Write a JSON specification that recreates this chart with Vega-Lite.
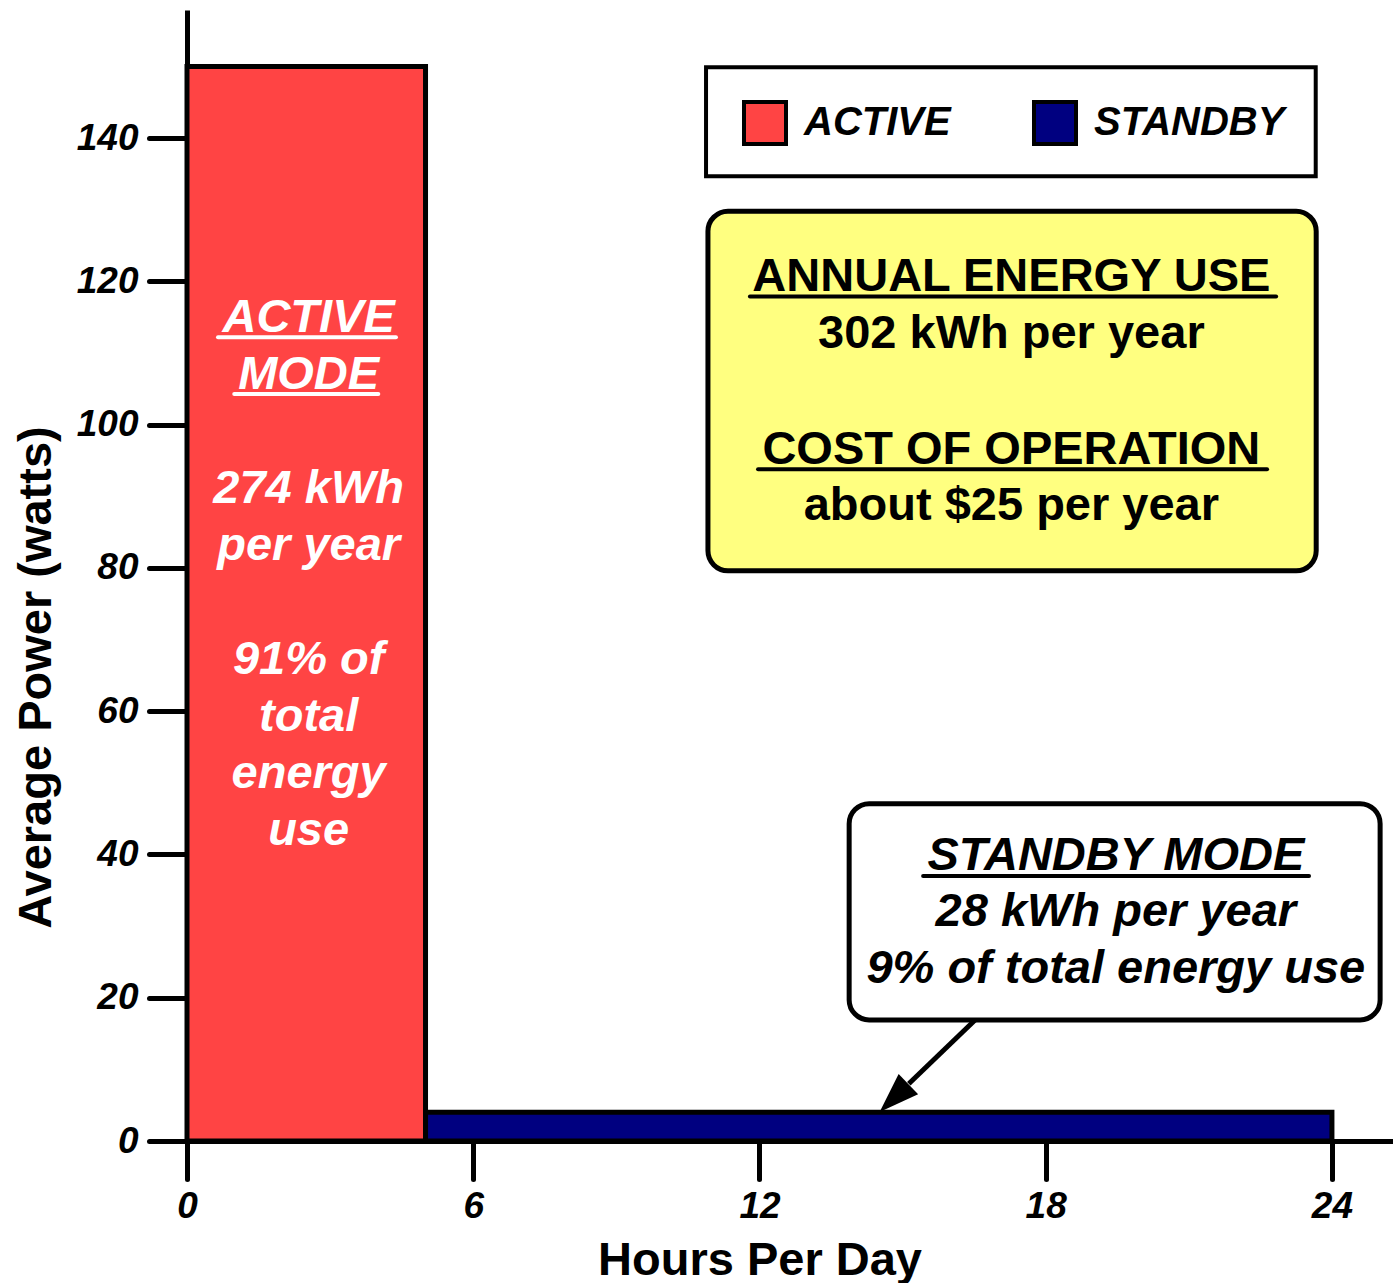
{
  "$schema": "https://vega.github.io/schema/vega-lite/v6.json",
  "width": 1206,
  "height": 1131,
  "autosize": {"type": "none"},
  "padding": {"left": 187, "top": 10, "right": 0, "bottom": 142},
  "background": "white",
  "datasets": {
    "bars": [
      {"mode": "ACTIVE", "x": 0, "x2": 5, "y": 150, "y2": 0},
      {"mode": "STANDBY", "x": 5, "x2": 24, "y": 4, "y2": 0}
    ],
    "boxes": [
      {"box": "legend", "x": 10.88, "x2": 23.66, "y": 149.9, "y2": 134.7},
      {"box": "energy", "x": 10.92, "x2": 23.67, "y": 129.8, "y2": 79.6},
      {"box": "standby", "x": 13.88, "x2": 25.01, "y": 47.1, "y2": 16.9}
    ],
    "texts": [
      {"group": "active", "x": 2.55, "y": 112.9, "label": "ACTIVE"},
      {"group": "active", "x": 2.55, "y": 105.0, "label": "MODE"},
      {"group": "active", "x": 2.55, "y": 89.1, "label": "274 kWh"},
      {"group": "active", "x": 2.55, "y": 81.1, "label": "per year"},
      {"group": "active", "x": 2.55, "y": 65.2, "label": "91% of"},
      {"group": "active", "x": 2.55, "y": 57.2, "label": "total"},
      {"group": "active", "x": 2.55, "y": 49.3, "label": "energy"},
      {"group": "active", "x": 2.55, "y": 41.3, "label": "use"},
      {"group": "energy", "x": 17.28, "y": 118.6, "label": "ANNUAL ENERGY USE"},
      {"group": "energy", "x": 17.28, "y": 110.7, "label": "302 kWh per year"},
      {"group": "energy", "x": 17.28, "y": 94.5, "label": "COST OF OPERATION"},
      {"group": "energy", "x": 17.28, "y": 86.7, "label": "about $25 per year"},
      {"group": "standby", "x": 19.47, "y": 37.8, "label": "STANDBY MODE"},
      {"group": "standby", "x": 19.47, "y": 30.0, "label": "28 kWh per year"},
      {"group": "standby", "x": 19.47, "y": 22.0, "label": "9% of total energy use"}
    ],
    "underlines": [
      {"group": "active", "x": 0.65, "x2": 4.38, "y": 112.2},
      {"group": "active", "x": 0.99, "x2": 4.01, "y": 104.3},
      {"group": "dark", "x": 11.8, "x2": 22.83, "y": 117.9},
      {"group": "dark", "x": 11.97, "x2": 22.64, "y": 93.8},
      {"group": "dark", "x": 15.43, "x2": 23.52, "y": 37.0}
    ],
    "arrowLine": [{"x": 16.52, "y": 16.9, "x2": 15.13, "y2": 8.0}],
    "arrowHead": [{"x": 14.82, "y": 6.0}]
  },
  "encoding": {
    "x": {
      "field": "x", "type": "quantitative",
      "scale": {"domain": [0, 25.28], "nice": false, "zero": false},
      "axis": {
        "title": "Hours Per Day",
        "values": [0, 6, 12, 18, 24],
        "grid": false,
        "domainColor": "black", "domainWidth": 5,
        "tickColor": "black", "tickWidth": 5, "tickSize": 38, "tickCap": "round",
        "labelFont": "Liberation Sans", "labelFontSize": 37, "labelFontWeight": "bold", "labelFontStyle": "italic",
        "labelColor": "black", "labelPadding": 9, "labelFlush": false,
        "titleFont": "Liberation Sans", "titleFontSize": 47, "titleFontWeight": "bold", "titleColor": "black",
        "titleX": 572.5, "titleY": 133, "titleBaseline": "alphabetic", "titleAlign": "center"
      }
    },
    "y": {
      "field": "y", "type": "quantitative",
      "scale": {"domain": [0, 157.9], "nice": false, "zero": false},
      "axis": {
        "title": "Average Power (watts)",
        "values": [0, 20, 40, 60, 80, 100, 120, 140],
        "grid": false,
        "domainColor": "black", "domainWidth": 5,
        "tickColor": "black", "tickWidth": 5, "tickSize": 38, "tickCap": "round",
        "labelFont": "Liberation Sans", "labelFontSize": 37, "labelFontWeight": "bold", "labelFontStyle": "italic",
        "labelColor": "black", "labelPadding": 11, "labelFlush": false,
        "titleFont": "Liberation Sans", "titleFontSize": 47, "titleFontWeight": "bold", "titleColor": "black",
        "titleAngle": 270, "titleX": -137, "titleY": 667, "titleBaseline": "alphabetic", "titleAlign": "center"
      }
    }
  },
  "layer": [
    {
      "data": {"name": "boxes"},
      "transform": [{"filter": "datum.box === 'legend'"}],
      "mark": {"type": "rect", "fill": "white", "stroke": "black", "strokeWidth": 4},
      "encoding": {"x2": {"field": "x2"}, "y2": {"field": "y2"}}
    },
    {
      "data": {"name": "boxes"},
      "transform": [{"filter": "datum.box === 'energy'"}],
      "mark": {"type": "rect", "fill": "#FFFF80", "stroke": "black", "strokeWidth": 5, "cornerRadius": 20},
      "encoding": {"x2": {"field": "x2"}, "y2": {"field": "y2"}}
    },
    {
      "data": {"name": "boxes"},
      "transform": [{"filter": "datum.box === 'standby'"}],
      "mark": {"type": "rect", "fill": "white", "stroke": "black", "strokeWidth": 5, "cornerRadius": 20},
      "encoding": {"x2": {"field": "x2"}, "y2": {"field": "y2"}}
    },
    {
      "data": {"name": "bars"},
      "mark": {"type": "rect", "stroke": "black", "strokeWidth": 5, "opacity": 1},
      "encoding": {
        "x2": {"field": "x2"},
        "y2": {"field": "y2"},
        "color": {
          "field": "mode", "type": "nominal",
          "scale": {"domain": ["ACTIVE", "STANDBY"], "range": ["#FF4444", "#000080"]},
          "legend": {
            "title": null,
            "orient": "none",
            "legendX": 555,
            "legendY": 90,
            "direction": "horizontal",
            "columns": 2,
            "columnPadding": 75,
            "padding": 0,
            "symbolType": "square",
            "symbolSize": 1764,
            "symbolStrokeColor": "black",
            "symbolStrokeWidth": 4,
            "symbolOpacity": 1,
            "labelOffset": 16,
            "labelFont": "Liberation Sans",
            "labelFontSize": 40,
            "labelFontWeight": "bold",
            "labelFontStyle": "italic",
            "labelColor": "black",
            "labelLimit": 400
          }
        }
      }
    },
    {
      "data": {"name": "underlines"},
      "transform": [{"filter": "datum.group === 'active'"}],
      "mark": {"type": "rule", "color": "white", "strokeWidth": 4, "strokeCap": "round"},
      "encoding": {"x2": {"field": "x2"}}
    },
    {
      "data": {"name": "underlines"},
      "transform": [{"filter": "datum.group === 'dark'"}],
      "mark": {"type": "rule", "color": "black", "strokeWidth": 4, "strokeCap": "round"},
      "encoding": {"x2": {"field": "x2"}}
    },
    {
      "data": {"name": "texts"},
      "transform": [{"filter": "datum.group === 'active'"}],
      "mark": {"type": "text", "color": "white", "font": "Liberation Sans", "fontSize": 47, "fontWeight": "bold", "fontStyle": "italic", "align": "center", "baseline": "alphabetic"},
      "encoding": {"text": {"field": "label", "type": "nominal"}}
    },
    {
      "data": {"name": "texts"},
      "transform": [{"filter": "datum.group === 'energy'"}],
      "mark": {"type": "text", "color": "black", "font": "Liberation Sans", "fontSize": 47, "fontWeight": "bold", "align": "center", "baseline": "alphabetic"},
      "encoding": {"text": {"field": "label", "type": "nominal"}}
    },
    {
      "data": {"name": "texts"},
      "transform": [{"filter": "datum.group === 'standby'"}],
      "mark": {"type": "text", "color": "black", "font": "Liberation Sans", "fontSize": 47, "fontWeight": "bold", "fontStyle": "italic", "align": "center", "baseline": "alphabetic"},
      "encoding": {"text": {"field": "label", "type": "nominal"}}
    },
    {
      "data": {"name": "arrowLine"},
      "mark": {"type": "rule", "color": "black", "strokeWidth": 5},
      "encoding": {"x2": {"field": "x2"}, "y2": {"field": "y2"}}
    },
    {
      "data": {"name": "arrowHead"},
      "mark": {"type": "point", "shape": "M0,-1L0.7,1L-0.7,1Z", "filled": true, "color": "black", "opacity": 1, "size": 1600, "angle": 226},
      "encoding": {}
    }
  ],
  "config": {
    "view": {"stroke": null},
    "axis": {"zindex": 0}
  }
}
